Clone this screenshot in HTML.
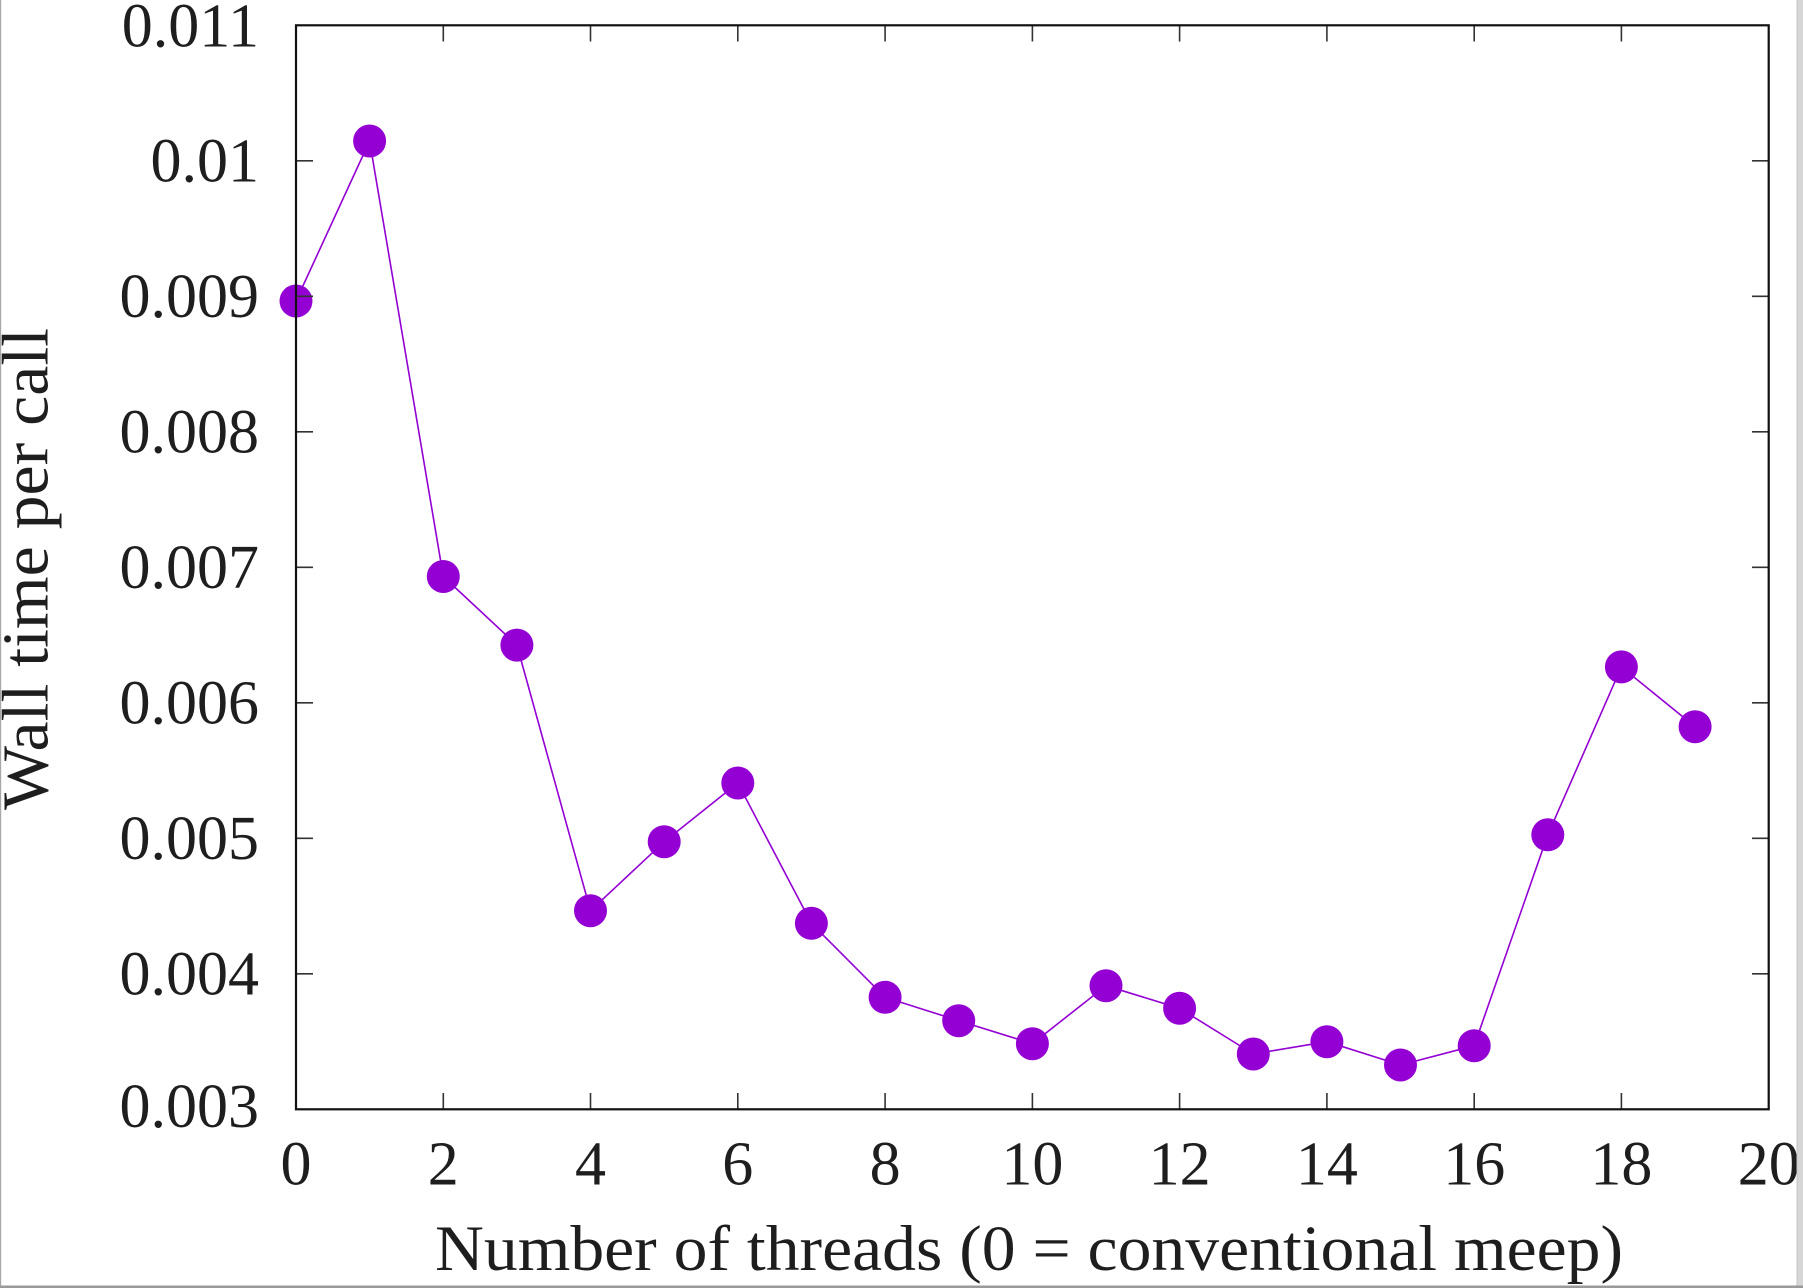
<!DOCTYPE html>
<html>
<head>
<meta charset="utf-8">
<style>
  html, body { margin: 0; padding: 0; background: #fff; }
  body { width: 1803px; height: 1288px; overflow: hidden; position: relative; }
  svg { position: absolute; left: 0; top: 0; }
  text { font-family: "Liberation Serif", "DejaVu Serif", serif; fill: #1e1e1e; }
</style>
</head>
<body>
<svg width="1803" height="1288" viewBox="0 0 1803 1288" xmlns="http://www.w3.org/2000/svg">
  <rect x="0" y="0" width="1803" height="1288" fill="#ffffff"/>

  <!-- series line -->
  <polyline fill="none" stroke="#9400D3" stroke-width="1.6" stroke-linejoin="round"
    points="296,301 369.6,141 443.3,576.5 516.9,645.1 590.5,910.7 664.2,841.7 737.8,783 811.4,923.3 885.1,997.3 958.7,1020.7 1032.4,1043.7 1106,985.7 1179.6,1008.3 1253.3,1054 1326.9,1041.7 1400.5,1065 1474.2,1045.7 1547.8,834.8 1621.4,666.9 1695.1,726.7"/>

  <!-- markers -->
  <g fill="#9400D3">
    <circle cx="296" cy="301" r="16.5"/>
    <circle cx="369.6" cy="141" r="16.5"/>
    <circle cx="443.3" cy="576.5" r="16.5"/>
    <circle cx="516.9" cy="645.1" r="16.5"/>
    <circle cx="590.5" cy="910.7" r="16.5"/>
    <circle cx="664.2" cy="841.7" r="16.5"/>
    <circle cx="737.8" cy="783" r="16.5"/>
    <circle cx="811.4" cy="923.3" r="16.5"/>
    <circle cx="885.1" cy="997.3" r="16.5"/>
    <circle cx="958.7" cy="1020.7" r="16.5"/>
    <circle cx="1032.4" cy="1043.7" r="16.5"/>
    <circle cx="1106" cy="985.7" r="16.5"/>
    <circle cx="1179.6" cy="1008.3" r="16.5"/>
    <circle cx="1253.3" cy="1054" r="16.5"/>
    <circle cx="1326.9" cy="1041.7" r="16.5"/>
    <circle cx="1400.5" cy="1065" r="16.5"/>
    <circle cx="1474.2" cy="1045.7" r="16.5"/>
    <circle cx="1547.8" cy="834.8" r="16.5"/>
    <circle cx="1621.4" cy="666.9" r="16.5"/>
    <circle cx="1695.1" cy="726.7" r="16.5"/>
  </g>

  <!-- ticks -->
  <g stroke="#333" stroke-width="1.6">
    <line x1="296" y1="973.8" x2="313" y2="973.8"/><line x1="1752" y1="973.8" x2="1769" y2="973.8"/>
    <line x1="296" y1="838.3" x2="313" y2="838.3"/><line x1="1752" y1="838.3" x2="1769" y2="838.3"/>
    <line x1="296" y1="702.8" x2="313" y2="702.8"/><line x1="1752" y1="702.8" x2="1769" y2="702.8"/>
    <line x1="296" y1="567.3" x2="313" y2="567.3"/><line x1="1752" y1="567.3" x2="1769" y2="567.3"/>
    <line x1="296" y1="431.8" x2="313" y2="431.8"/><line x1="1752" y1="431.8" x2="1769" y2="431.8"/>
    <line x1="296" y1="296.3" x2="313" y2="296.3"/><line x1="1752" y1="296.3" x2="1769" y2="296.3"/>
    <line x1="296" y1="160.8" x2="313" y2="160.8"/><line x1="1752" y1="160.8" x2="1769" y2="160.8"/>
    <line x1="443.3" y1="1109.3" x2="443.3" y2="1093"/><line x1="443.3" y1="25.3" x2="443.3" y2="41.5"/>
    <line x1="590.5" y1="1109.3" x2="590.5" y2="1093"/><line x1="590.5" y1="25.3" x2="590.5" y2="41.5"/>
    <line x1="737.8" y1="1109.3" x2="737.8" y2="1093"/><line x1="737.8" y1="25.3" x2="737.8" y2="41.5"/>
    <line x1="885.1" y1="1109.3" x2="885.1" y2="1093"/><line x1="885.1" y1="25.3" x2="885.1" y2="41.5"/>
    <line x1="1032.4" y1="1109.3" x2="1032.4" y2="1093"/><line x1="1032.4" y1="25.3" x2="1032.4" y2="41.5"/>
    <line x1="1179.6" y1="1109.3" x2="1179.6" y2="1093"/><line x1="1179.6" y1="25.3" x2="1179.6" y2="41.5"/>
    <line x1="1326.9" y1="1109.3" x2="1326.9" y2="1093"/><line x1="1326.9" y1="25.3" x2="1326.9" y2="41.5"/>
    <line x1="1474.2" y1="1109.3" x2="1474.2" y2="1093"/><line x1="1474.2" y1="25.3" x2="1474.2" y2="41.5"/>
    <line x1="1621.4" y1="1109.3" x2="1621.4" y2="1093"/><line x1="1621.4" y1="25.3" x2="1621.4" y2="41.5"/>
  </g>

  <!-- frame -->
  <rect x="296" y="25.3" width="1472.7" height="1084" fill="none" stroke="#111" stroke-width="2.2"/>

  <!-- y tick labels -->
  <g font-size="62" text-anchor="end">
    <text x="259" y="1127">0.003</text>
    <text x="259" y="994.5">0.004</text>
    <text x="259" y="859">0.005</text>
    <text x="259" y="723.5">0.006</text>
    <text x="259" y="588">0.007</text>
    <text x="259" y="452.5">0.008</text>
    <text x="259" y="317">0.009</text>
    <text x="259" y="181.5">0.01</text>
    <text x="259" y="46.3">0.011</text>
  </g>

  <!-- x tick labels -->
  <g font-size="62" text-anchor="middle">
    <text x="296" y="1184.5">0</text>
    <text x="443.3" y="1184.5">2</text>
    <text x="590.5" y="1184.5">4</text>
    <text x="737.8" y="1184.5">6</text>
    <text x="885.1" y="1184.5">8</text>
    <text x="1032.4" y="1184.5">10</text>
    <text x="1179.6" y="1184.5">12</text>
    <text x="1326.9" y="1184.5">14</text>
    <text x="1474.2" y="1184.5">16</text>
    <text x="1621.4" y="1184.5">18</text>
    <text x="1768.7" y="1184.5">20</text>
  </g>

  <!-- axis labels -->
  <text x="435" y="1270" font-size="65" textLength="1188" lengthAdjust="spacingAndGlyphs">Number of threads (0 = conventional meep)</text>
  <text transform="translate(47.5,810) rotate(-90)" x="0" y="0" font-size="66" textLength="482" lengthAdjust="spacingAndGlyphs">Wall time per call</text>

  <!-- window borders -->
  <rect x="0" y="0" width="1.2" height="1288" fill="#a8a8a8"/>
  <rect x="1797" y="0" width="6" height="1288" fill="#d6d6d6"/>
  <rect x="1796.5" y="0" width="1" height="1288" fill="#c4c4c4"/>
  <rect x="0" y="1285.5" width="1803" height="2.5" fill="#9a9a9a"/>
</svg>
</body>
</html>
